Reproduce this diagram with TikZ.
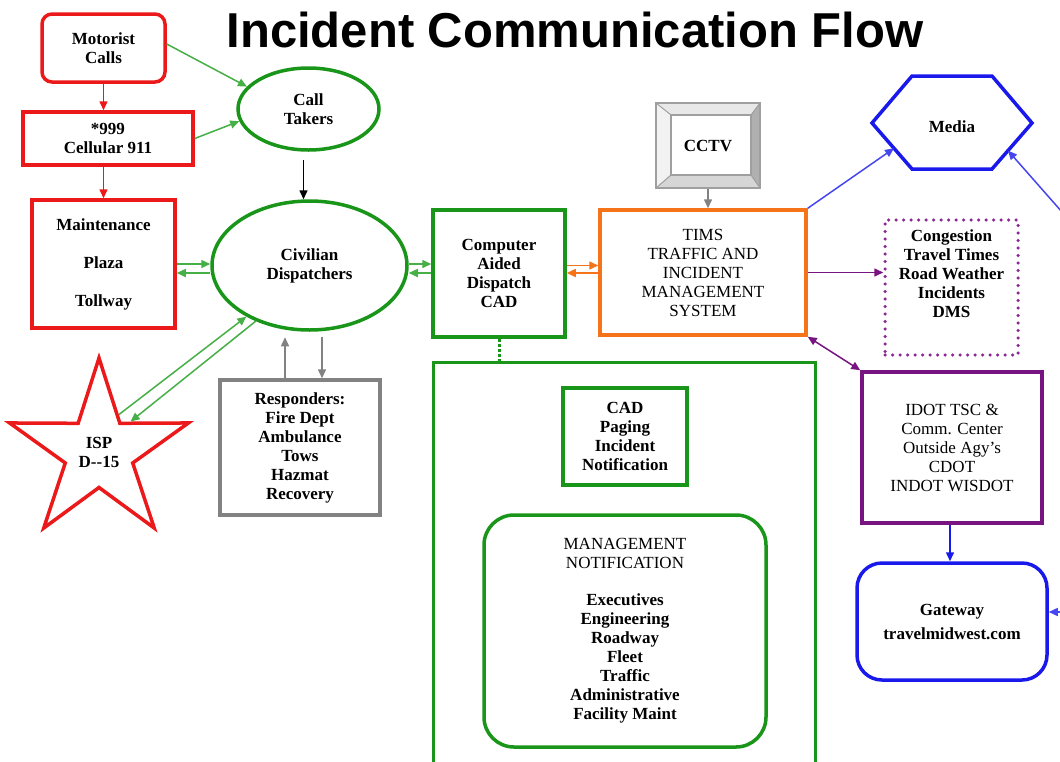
\documentclass[tikz,border=0pt]{standalone}
\usepackage{fontspec}
\setmainfont{Liberation Serif}
\newfontfamily\titlefont{Liberation Sans}
\usetikzlibrary{arrows.meta,shapes.geometric,calc}
\definecolor{cred}{RGB}{235,25,25}
\definecolor{cgreen}{RGB}{25,150,25}
\definecolor{clgreen}{RGB}{70,175,70}
\definecolor{corange}{RGB}{245,115,25}
\definecolor{cpurple}{RGB}{120,20,130}
\definecolor{cdpurple}{RGB}{140,40,150}
\definecolor{cblue}{RGB}{25,25,235}
\definecolor{clblue}{RGB}{70,70,240}
\definecolor{cgray}{RGB}{130,130,130}
\newcommand\bodyfont{\fontsize{17}{19}\selectfont}
\begin{document}
\begin{tikzpicture}[x=1pt,y=-1pt,
  box/.style={draw, line width=3.5pt, align=center, inner sep=0pt, font=\bodyfont\bfseries},
  plainbox/.style={box, font=\bodyfont},
  txt/.style={align=center, inner sep=0pt, font=\bodyfont\bfseries},
  tip/.style={-{Triangle[length=9pt,width=8pt]}},
  conn/.style={line width=1.5pt, tip},
  gconn/.style={conn, clgreen},
  rconn/.style={conn, cred},
  oconn/.style={conn, corange},
  pconn/.style={conn, cpurple},
  bconn/.style={conn, clblue},
  grconn/.style={conn, cgray}
]
\useasboundingbox (0,0) rectangle (1060,761);
\fill[white] (0,0) rectangle (1060,761);

% title
\node[anchor=base, inner sep=0pt, font=\titlefont\bfseries\fontsize{49}{55}\selectfont] (title) at (575,47) {Incident Communication Flow};

% left column
\node[box, draw=cred, rounded corners=10pt, minimum width=123pt, minimum height=68pt] (motorist) at (103.5,48) {Motorist\\Calls};
\node[box, draw=cred, minimum width=170pt, minimum height=53pt] (cell) at (108,138.5) {*999\\Cellular 911};
\node[box, draw=cred, minimum width=143pt, minimum height=128pt] (maint) at (103.5,264) {Maintenance\\[19pt]Plaza\\[19pt]Tollway};
\node[box, draw=cred, star, star points=5, star point ratio=2.65, minimum size=188pt] (isp) at (99,452) {ISP\\D-{}-15};

% ellipses
\node[box, draw=cgreen, ellipse, minimum width=141pt, minimum height=82pt] (calltakers) at (308.5,109) {Call\\Takers};
\node[box, draw=cgreen, ellipse, minimum width=195pt, minimum height=129pt] (civ) at (309.5,265.5) {Civilian\\Dispatchers};

% responders
\node[box, draw=cgray, minimum width=160pt, minimum height=135pt] (resp) at (300,447.5) {Responders:\\Fire Dept\\Ambulance\\Tows\\Hazmat\\Recovery};

% CAD
\node[box, draw=cgreen, minimum width=132pt, minimum height=127pt] (cad) at (499,273.5) {Computer\\Aided\\Dispatch\\CAD};

% big green group box
\draw[cgreen, line width=3pt] (433,762) -- (433,362) -- (815,362) -- (815,762);
\coordinate (bigtop) at (500,362);
\node[box, draw=cgreen, minimum width=124pt, minimum height=97pt] (cadpaging) at (625,436.5) {CAD\\Paging\\Incident\\Notification};
\node[plainbox, draw=cgreen, rounded corners=30pt, minimum width=282pt, minimum height=232pt] (mgmt) at (625,631) {MANAGEMENT\\NOTIFICATION\\[18pt]\textbf{Executives}\\\textbf{Engineering}\\\textbf{Roadway}\\\textbf{Fleet}\\\textbf{Traffic}\\\textbf{Administrative}\\\textbf{Facility Maint}};

% CCTV monitor
\fill[gray!45] (656,103) rectangle (760,188);
\fill[gray!18] (656,103) -- (760,103) -- (751,115) -- (671,115) -- cycle;
\fill[gray!10] (656,103) -- (671,115) -- (671,175) -- (656,188) -- cycle;
\fill[gray!62] (760,103) -- (760,188) -- (751,175) -- (751,115) -- cycle;
\fill[gray!32] (656,188) -- (760,188) -- (751,175) -- (671,175) -- cycle;
\draw[gray!75, line width=1pt] (656,103) -- (671,115) (760,103) -- (751,115) (656,188) -- (671,175) (760,188) -- (751,175);
\draw[gray!75, line width=1.5pt, fill=white] (671,115) rectangle (751,175);
\node[draw=gray!75, line width=2.5pt, minimum width=104pt, minimum height=85pt, txt] (cctv) at (708,145.5) {CCTV};

% TIMS
\node[plainbox, draw=corange, minimum width=206pt, minimum height=125pt] (tims) at (703,272.5) {TIMS\\TRAFFIC AND\\INCIDENT\\MANAGEMENT\\SYSTEM};

% Media hexagon
\coordinate (m1) at (872,123);
\coordinate (m2) at (912,76);
\coordinate (m3) at (992,76);
\coordinate (m4) at (1032,123);
\coordinate (m5) at (992,169);
\coordinate (m6) at (912,169);
\draw[cblue, line width=3.5pt, line join=miter] (m1) -- (m2) -- (m3) -- (m4) -- (m5) -- (m6) -- cycle;
\node[txt] (media) at (952,127) {Media};
\coordinate (mediaL) at ($(m1)!0.55!(m6)$);
\coordinate (mediaR) at ($(m4)!0.6!(m5)$);

% congestion dotted box
\node[draw=cdpurple, line width=3.5pt, line cap=round, dash pattern=on 0pt off 7.5pt, minimum width=133pt, minimum height=135pt] (cong) at (951.5,287.5) {};
\node[txt] (congtxt) at (951.5,274) {Congestion\\Travel Times\\Road Weather\\Incidents\\DMS};

% IDOT
\node[plainbox, draw=cpurple, minimum width=180pt, minimum height=151pt] (idot) at (952,447.5) {IDOT TSC \&\\Comm. Center\\Outside Agy’s\\CDOT\\INDOT WISDOT};

% Gateway
\node[box, draw=cblue, rounded corners=25pt, minimum width=190pt, minimum height=117pt] (gateway) at (952,621.5) {Gateway\\[5pt]travelmidwest.com};

% free ends at right edge
\coordinate (r1) at (1062,212);
\coordinate (r2) at (1062,612);

% ---------- connectors ----------
\draw[gconn] ([yshift=4pt]motorist.east) -- (calltakers.160);
\draw[gconn] (cell.east) -- (calltakers.190);
\draw[rconn] (motorist.south) -- (motorist.south |- cell.north);
\draw[rconn] (motorist.south |- cell.south) -- (motorist.south |- maint.north);
\draw[conn, black] ([xshift=-5pt,yshift=-8pt]calltakers.south) -- ([xshift=-5pt]calltakers.south |- civ.north);

\draw[gconn] (maint.east) -- (maint.east -| civ.west);
\draw[gconn] ([yshift=-9pt]maint.east -| civ.west) -- ([yshift=-9pt]maint.east);
\draw[gconn] ([yshift=1.5pt]civ.east) -- ([yshift=1.5pt]civ.east -| cad.west);
\draw[gconn] ([yshift=-7.5pt]civ.east -| cad.west) -- ([yshift=-7.5pt]civ.east);

\draw[gconn] (isp.62) -- (civ.219);
\draw[gconn] (civ.226) -- (isp.44);

\draw[grconn] ([xshift=-15pt]resp.north) -- ([xshift=-15pt,yshift=41pt]resp.north);
\draw[grconn] ([xshift=22pt,yshift=41pt]resp.north) -- ([xshift=22pt]resp.north);

\draw[cgreen, line width=3pt, dotted] (cad.south) -- (cad.south |- bigtop);

\draw[oconn] ([yshift=8pt]cad.east) -- ([yshift=8pt]cad.east -| tims.west);
\draw[oconn] ([yshift=-0.5pt]tims.west) -- ([yshift=-0.5pt]tims.west -| cad.east);

\draw[grconn] (cctv.south) -- (cctv.south |- tims.north);

\draw[bconn] (tims.north east) -- (mediaL);
\draw[bconn] (r1) -- (mediaR);
\draw[pconn] (tims.east) -- (tims.east -| cong.west);
\draw[conn, cpurple, {Triangle[length=9pt,width=8pt]}-{Triangle[length=9pt,width=8pt]}] (tims.south east) -- (idot.north west);
\draw[bconn, cblue] ([xshift=-2pt]idot.south) -- ([xshift=-2pt]idot.south |- gateway.north);
\draw[bconn] (r2) -- (r2 -| gateway.east);
\end{tikzpicture}
\end{document}
